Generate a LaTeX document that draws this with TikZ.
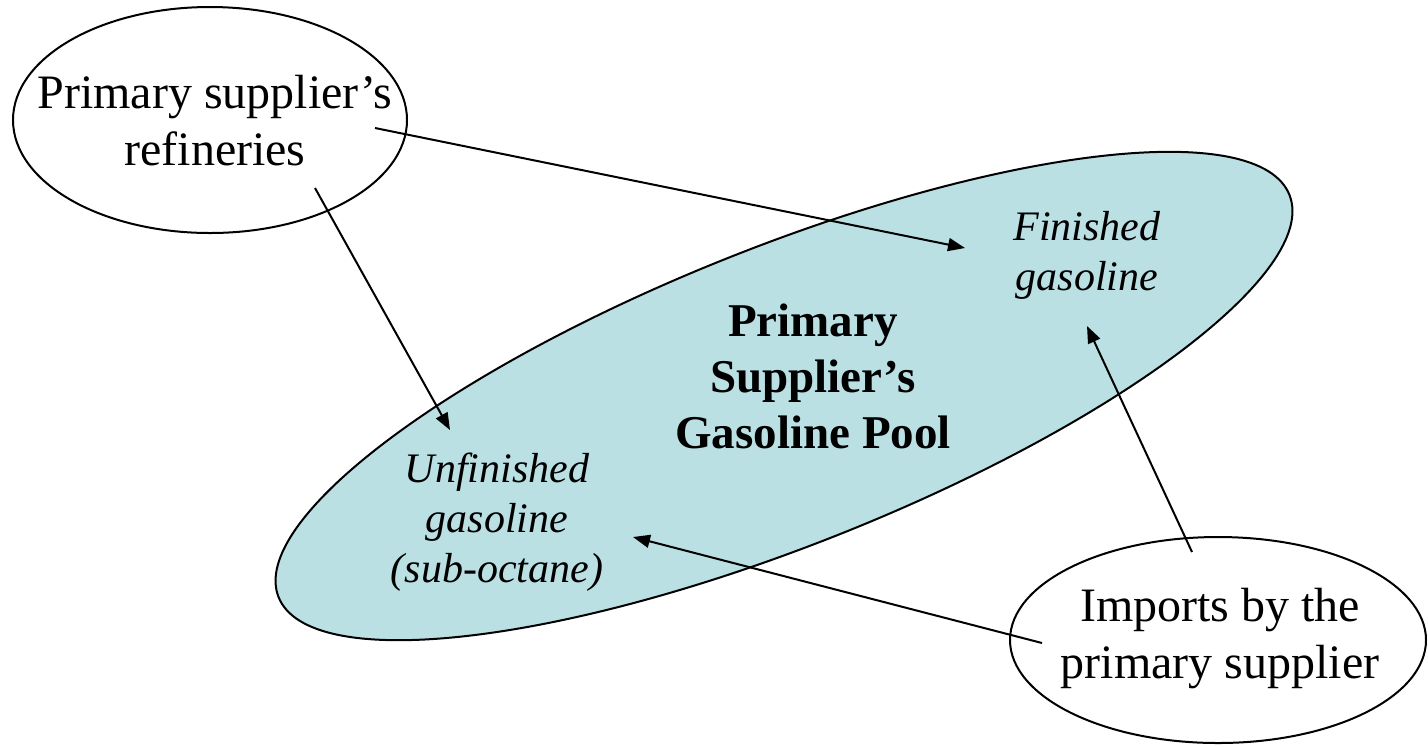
\documentclass[tikz,border=0pt]{standalone}
\usepackage{fontspec}
\setmainfont{Liberation Serif}
\usetikzlibrary{arrows.meta,shapes.geometric}

\definecolor{poolteal}{RGB}{186,224,228}

\begin{document}
\begin{tikzpicture}[x=0.5pt,y=-0.5pt,
    source/.style={draw,ellipse,line width=1pt,inner sep=0pt},
    sourcetext/.style={align=center,font=\fontsize{24}{28.5}\selectfont},
    pool/.style={draw,ellipse,fill=poolteal,line width=1pt,inner sep=0pt},
    stream/.style={align=center,font=\fontsize{21}{25}\selectfont\itshape},
    title/.style={align=center,font=\fontsize{23.5}{28}\selectfont\bfseries},
    flow/.style={-{Triangle[length=8.5pt,width=6.5pt]},line width=1pt},
]
\useasboundingbox (0,0) rectangle (1428,746);

% ---- Gasoline pool -------------------------------------------------------
\node[pool,minimum width=544pt,minimum height=149pt,rotate=21.7]
      (pool) at (784,396) {};
\node[title] (poolname) at (813,376) {Primary\\Supplier's\\Gasoline Pool};
\node[stream] (fin)   at (1087,255) {Finished\\gasoline};
\node[stream] (unfin) at (497,522)  {Unfinished\\gasoline\\(sub-octane)};

% ---- Sources -------------------------------------------------------------
\node[source,minimum width=197pt,minimum height=113pt] (ref) at (210,120) {};
\node[sourcetext] (refname) at (215,121) {Primary supplier's\\refineries};
\node[source,minimum width=208pt,minimum height=103pt] (imp) at (1218,640) {};
\node[sourcetext] (impname) at (1220,639) {Imports by the\\primary supplier};

% ---- Flows ---------------------------------------------------------------
\coordinate (refA) at (375,128);  \coordinate (finA)   at (965,248);
\coordinate (refB) at (315,188);  \coordinate (unfinA) at (450,430);
\coordinate (impA) at (1192,552); \coordinate (finB)   at (1087,326);
\coordinate (impB) at (1042,643); \coordinate (unfinB) at (633,537);

\draw[flow] (refA) -- (finA);
\draw[flow] (refB) -- (unfinA);
\draw[flow] (impA) -- (finB);
\draw[flow] (impB) -- (unfinB);

\end{tikzpicture}
\end{document}
